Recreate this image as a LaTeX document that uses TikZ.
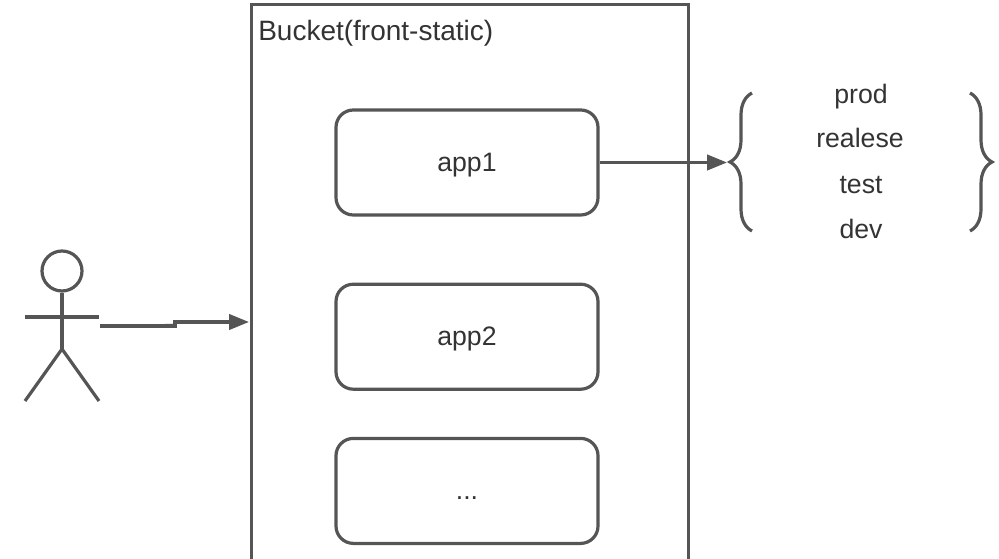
\documentclass[tikz,border=0pt]{standalone}
\usepackage{fontspec}
\setmainfont{Liberation Sans}
\usetikzlibrary{positioning,arrows.meta,decorations.pathreplacing}

\begin{document}
\begin{tikzpicture}[
        x=0.75pt,
        y=-0.75pt,
        font=\fontsize{20}{23}\selectfont,
        arrow/.style={-{Triangle[length=15pt,width=11.5pt]}, line width=2.4pt, draw=linegray, fill=linegray},
        stick/.style={line width=2.4pt, draw=linegray},
        appbox/.style={
            draw=linegray,
            rounded corners=13pt,
            line width=2.4pt,
            minimum width=196.5pt,
            minimum height=78.75pt,
            text height=14pt,
            text depth=0.5pt,
            text=textgray
        },
        envtext/.style={anchor=base, text=textgray},
        envbrace/.style={
            line width=2.4pt,
            draw=linegray,
            decorate,
            decoration={brace, amplitude=16.5pt}
        }
    ]
    \definecolor{linegray}{HTML}{555555}
    \definecolor{textgray}{HTML}{333333}

    \useasboundingbox (0,0) rectangle (999,559);
    \clip (0,0) rectangle (999,559);

    % Step 1: bucket, runs past the bottom edge
    \node[
        draw=linegray,
        line width=2.4pt,
        minimum width=327.75pt,
        minimum height=480pt,
        anchor=north west
    ] (bucket) at (250,3) {};
    \node[anchor=base west, text=textgray, inner sep=0pt, font=\fontsize{21}{24}\selectfont] (bucketname) at (258,41) {Bucket(front-static)};

    % Step 2: apps inside the bucket
    \node[appbox] (app1) at (467,162.5) {app1};
    \node[appbox, below=49.5pt of app1] (app2) {app2};
    \node[appbox, below=34.5pt of app2] (appmore) {...};

    % Step 3: environments
    \node[envtext] (prod) at (861,104) {prod};
    \node[envtext] (realese) at (860,148) {realese};
    \node[envtext] (test) at (861,194) {test};
    \node[envtext] (dev) at (861,239) {dev};

    \coordinate (lefttop) at (752,93);
    \coordinate (leftbot) at (752,231);
    \coordinate (righttop) at (970,93);
    \coordinate (rightbot) at (970,231);
    \coordinate (lefttip) at (727,162.5);
    \draw[envbrace] (leftbot) -- (lefttop);
    \draw[envbrace] (righttop) -- (rightbot);
    \draw[arrow] (app1.east) -- (lefttip);

    % Step 4: the user
    \node[draw=linegray, line width=2.4pt, circle, minimum size=30pt, inner sep=0pt] (head) at (62,271) {};
    \coordinate (hip) at (62,349);
    \coordinate (armleft) at (25,317);
    \coordinate (armright) at (99,317);
    \coordinate (footleft) at (25,401);
    \coordinate (footright) at (99,401);
    \draw[stick] (head.south) -- (hip);
    \draw[stick] (armleft) -- (armright);
    \draw[stick] (footleft) -- (hip) -- (footright);

    \coordinate (start) at (100,326);
    \coordinate (bendlow) at (175,326);
    \coordinate (bendhigh) at (175,322);
    \coordinate (entry) at (249,322);
    \draw[arrow] (start) -- (bendlow) -- (bendhigh) -- (entry);

\end{tikzpicture}
\end{document}
